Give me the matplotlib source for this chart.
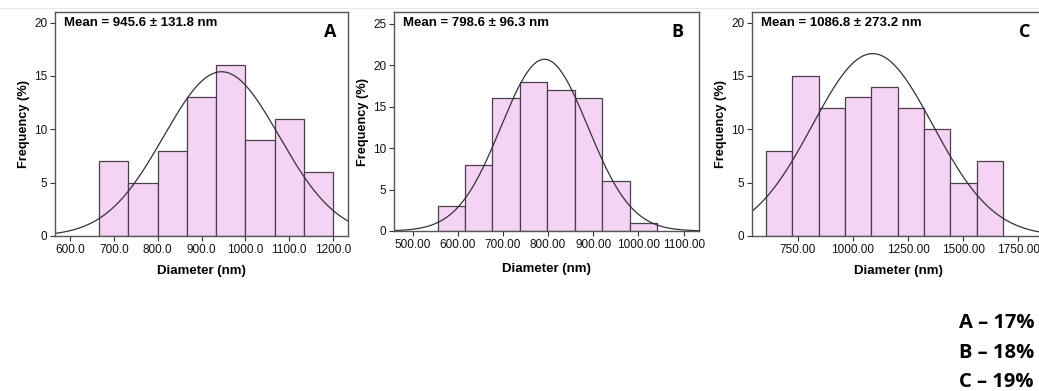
import numpy as np
import matplotlib
matplotlib.use("Agg")
import matplotlib.pyplot as plt

plt.rcParams['font.family'] = ['Liberation Sans', 'DejaVu Sans']

# ---- data ----
freq_A = [7, 5, 8, 13, 16, 9, 11, 6]
edges_A_start, width_A = 666.7, 66.66
mean_A, sd_A, peak_A = 945.6, 131.8, 15.4
ticks_A = [600, 700, 800, 900, 1000, 1100, 1200]
ticklabels_A = ["600.0", "700.0", "800.0", "900.0", "1000.0", "1100.0", "1200.0"]
yticks_A = [0, 5, 10, 15, 20]

freq_B = [3, 8, 16, 18, 17, 16, 6, 1]
edges_B_start, width_B = 555.5, 60.7
mean_B, sd_B, peak_B = 792.0, 96.3, 20.7
ticks_B = [500, 600, 700, 800, 900, 1000, 1100]
ticklabels_B = ["500.00", "600.00", "700.00", "800.00", "900.00", "1000.00", "1100.00"]
yticks_B = [0, 5, 10, 15, 20, 25]

freq_C = [8, 15, 12, 13, 14, 12, 10, 5, 7]
edges_C_start, width_C = 608.0, 119.0
mean_C, sd_C, peak_C = 1090.0, 273.2, 17.1
ticks_C = [750, 1000, 1250, 1500, 1750]
ticklabels_C = ["750.00", "1000.00", "1250.00", "1500.00", "1750.00"]
yticks_C = [0, 5, 10, 15, 20]

mean_texts = ["Mean = 945.6 ± 131.8 nm", "Mean = 798.6 ± 96.3 nm", "Mean = 1086.8 ± 273.2 nm"]
panel_letters = ["A", "B", "C"]
summary = ["A – 17%", "B – 18%", "C – 19%"]

W, H = 1039, 391
fig = plt.figure(figsize=(W / 100, H / 100), dpi=100)

def ax_at(l, r, t, b):
    return fig.add_axes([l / W, 1 - b / H, (r - l) / W, (b - t) / H])

# faint top separator
fig.add_artist(plt.Line2D([0, 1], [1 - 7.5 / H, 1 - 7.5 / H], color="#e6e6e6", lw=0.8))

panels = [
    dict(box=(55, 348, 12, 236), freq=freq_A, x0=edges_A_start, w=width_A, mu=mean_A, sd=sd_A,
         pk=peak_A, xt=ticks_A, xtl=ticklabels_A, yt=yticks_A, xlim=(566, 1234), ylim=(0, 21.0),
         xlp=7, letter_x=330),
    dict(box=(394, 699, 12, 231), freq=freq_B, x0=edges_B_start, w=width_B, mu=mean_B, sd=sd_B,
         pk=peak_B, xt=ticks_B, xtl=ticklabels_B, yt=yticks_B, xlim=(459, 1134), ylim=(0, 26.4),
         xlp=9, letter_x=677),
    dict(box=(752, 1045, 12, 236), freq=freq_C, x0=edges_C_start, w=width_C, mu=mean_C, sd=sd_C,
         pk=peak_C, xt=ticks_C, xtl=ticklabels_C, yt=yticks_C, xlim=(544, 1870), ylim=(0, 21.0),
         xlp=7, letter_x=1025),
]

for i, p in enumerate(panels):
    ax = ax_at(*p["box"])
    n = len(p["freq"])
    lefts = p["x0"] + p["w"] * np.arange(n)
    ax.bar(lefts, p["freq"], width=p["w"], align="edge", color="#f5d3f5",
           edgecolor="#4a3f4a", linewidth=0.9)
    xs = np.linspace(p["xlim"][0], p["xlim"][1], 400)
    ax.plot(xs, p["pk"] * np.exp(-(xs - p["mu"]) ** 2 / (2 * p["sd"] ** 2)), color="#333333", lw=0.9)
    ax.set_xlim(*p["xlim"])
    ax.set_ylim(*p["ylim"])
    ax.set_xticks(p["xt"])
    ax.set_xticklabels(p["xtl"])
    ax.set_yticks(p["yt"])
    ax.tick_params(axis="both", direction="out", length=3.5, width=0.8, labelsize=8.5,
                   colors="#333333", pad=2)
    ax.tick_params(axis="both", labelcolor="#111111")
    for s in ax.spines.values():
        s.set_color("#555555")
        s.set_linewidth(1.0)
    ax.set_xlabel("Diameter (nm)", fontsize=9.5, fontweight="bold", labelpad=p["xlp"])
    ax.set_ylabel("Frequency (%)", fontsize=9.2, fontweight="bold", labelpad=3)
    ax.text(0.03, 0.95, mean_texts[i], transform=ax.transAxes, fontsize=9.5,
            fontweight="bold", ha="left", va="center")
    fig.text(p["letter_x"] / W, 1 - 37 / H, panel_letters[i], fontsize=13, fontweight="bold",
             ha="center", va="baseline", family=["Open Sans", "DejaVu Sans"])

for k, s in enumerate(summary):
    fig.text(959 / W, 1 - (328 + 29.5 * k) / H, s, fontsize=14.5, fontweight="bold",
             ha="left", va="baseline", family=["Open Sans", "DejaVu Sans"])

fig.savefig("out.png", dpi=100)
